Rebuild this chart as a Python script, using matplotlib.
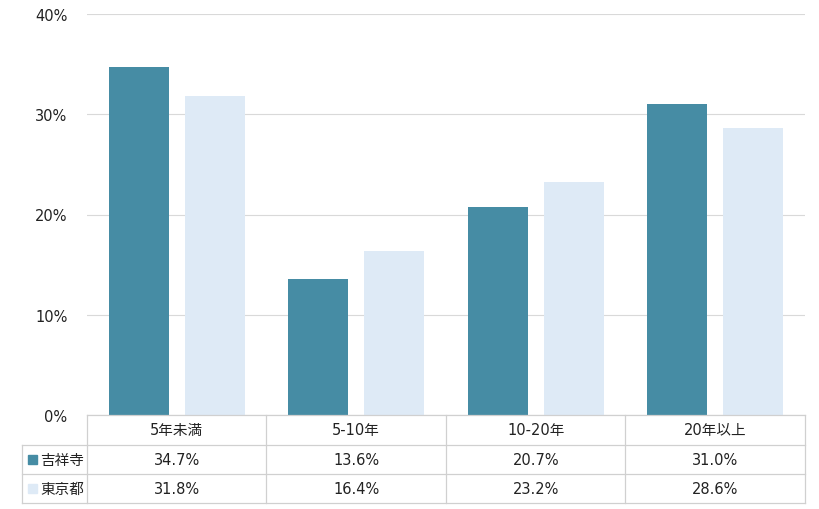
import matplotlib
matplotlib.use("Agg")
import matplotlib.pyplot as plt
import numpy as np
from matplotlib.patches import Rectangle

plt.rcParams['font.family'] = ['DejaVu Sans', 'Noto Sans CJK JP']

categories = ['5年未満', '5-10年', '10-20年', '20年以上']
series_names = ['吉祥寺', '東京都']
kichijoji = [34.7, 13.6, 20.7, 31.0]
tokyo = [31.8, 16.4, 23.2, 28.6]
colors = ['#468CA4', '#DEEAF6']
yticks = [0, 10, 20, 30, 40]

W, H = 820, 510
fig = plt.figure(figsize=(W / 100, H / 100), dpi=100)

# plot area in pixels
left, right, top, bottom = 87, 805, 15, 416
ax = fig.add_axes([left / W, 1 - bottom / H, (right - left) / W, (bottom - top) / H])

x = np.arange(len(categories))
width = 0.335
offset = 0.212
ax.bar(x - offset, kichijoji, width, color=colors[0], zorder=3)
ax.bar(x + offset, tokyo, width, color=colors[1], zorder=3)

ax.set_xlim(-0.5, len(categories) - 0.5)
ax.set_ylim(0, 40)
ax.set_yticks(yticks)
ax.set_yticklabels([f'{v}%' for v in yticks], fontsize=10.5, color='#222222')
ax.set_xticks([])
ax.tick_params(axis='y', length=0, pad=14)
ax.grid(axis='y', color='#D9D9D9', linewidth=0.8, zorder=0)
for s in ax.spines.values():
    s.set_visible(False)

# data table below the plot
tleft, trow0, trow1, trow2, tbottom = 22, 416, 446, 475, 504
tax = fig.add_axes([0, 0, 1, 1])
tax.set_xlim(0, W)
tax.set_ylim(H, 0)
tax.axis('off')
line_kw = dict(color='#D0D0D0', linewidth=0.9)

col_w = (right - left) / len(categories)
col_edges = [left + i * col_w for i in range(len(categories) + 1)]
# horizontal lines
tax.plot([left, right], [trow0, trow0], **line_kw)
for yy in [trow1, trow2, tbottom]:
    tax.plot([tleft, right], [yy, yy], **line_kw)
# vertical lines
tax.plot([tleft, tleft], [trow1, tbottom], **line_kw)
for xx in col_edges:
    tax.plot([xx, xx], [trow0, tbottom], **line_kw)

txt_kw = dict(fontsize=10.5, color='#222222', va='center', ha='center')
for i, cat in enumerate(categories):
    cx = left + (i + 0.5) * col_w
    tax.text(cx, (trow0 + trow1) / 2, cat, **txt_kw)
    tax.text(cx, (trow1 + trow2) / 2, f'{kichijoji[i]:.1f}%', **txt_kw)
    tax.text(cx, (trow2 + tbottom) / 2, f'{tokyo[i]:.1f}%', **txt_kw)

for j, (name, yc) in enumerate(zip(series_names, [(trow1 + trow2) / 2, (trow2 + tbottom) / 2])):
    tax.add_patch(Rectangle((28, yc - 4.5), 9, 9, color=colors[j]))
    tax.text(40, yc, name, fontsize=10.5, color='#222222', va='center', ha='left')

fig.savefig('out.png', dpi=100)
